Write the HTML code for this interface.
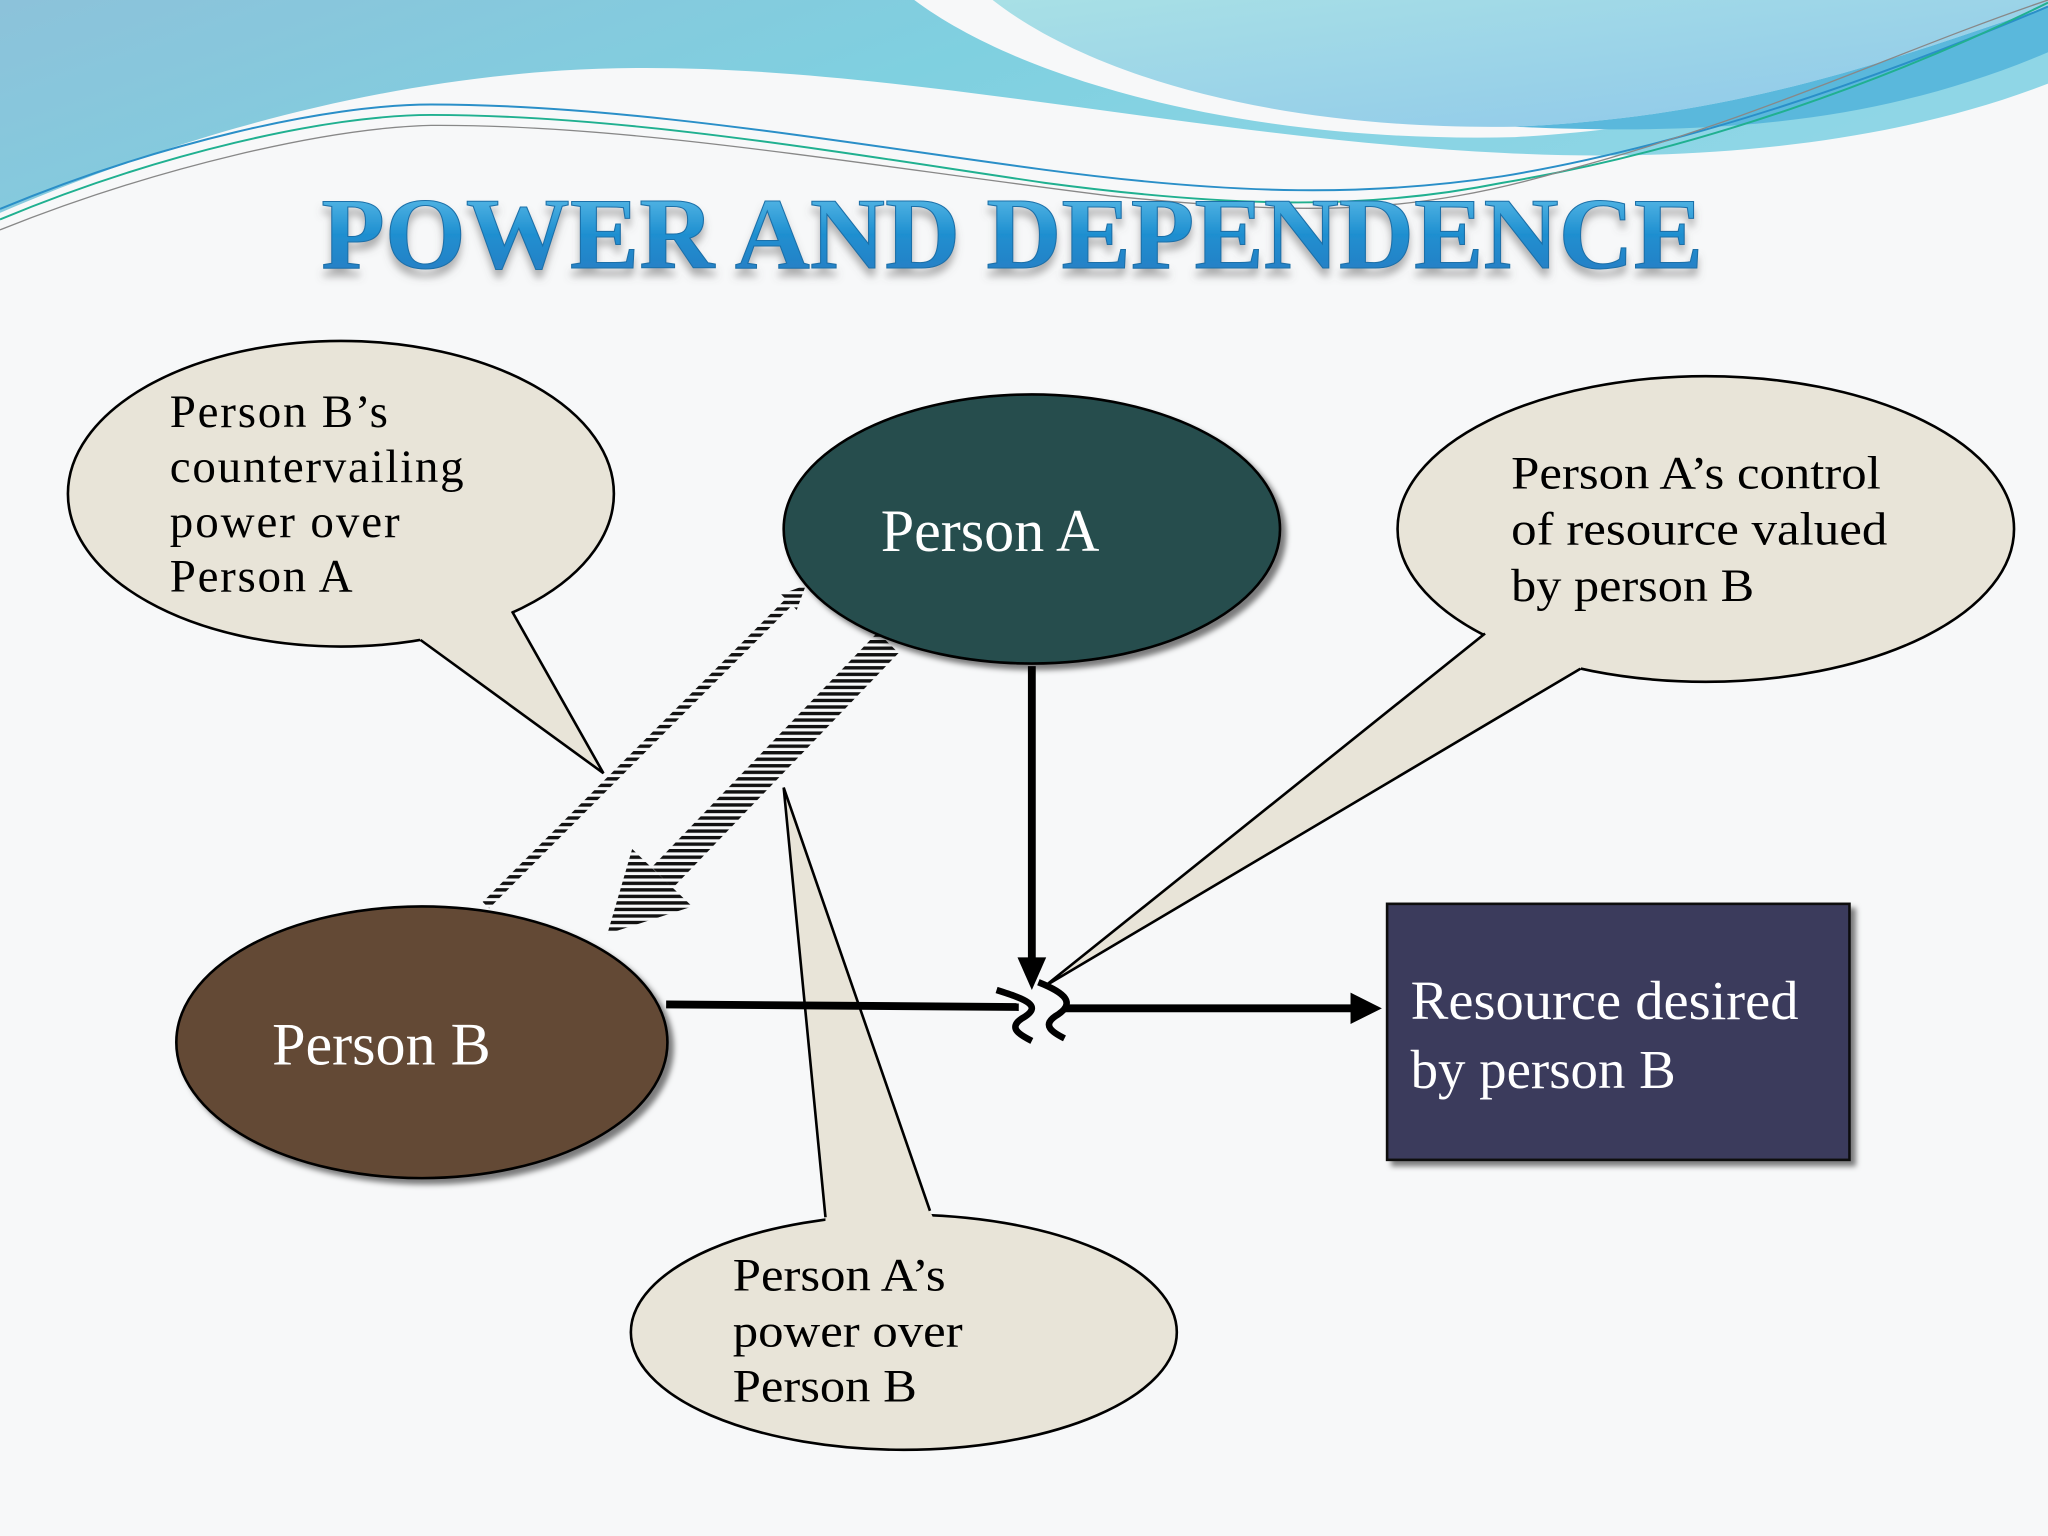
<!DOCTYPE html>
<html><head><meta charset="utf-8"><style>html,body{margin:0;padding:0;background:#f7f8f9}svg{display:block}</style></head>
<body>
<svg width="2048" height="1536" viewBox="0 0 1568 1176" xmlns="http://www.w3.org/2000/svg">
<defs>
<linearGradient id="sky" x1="0" y1="0" x2="1" y2="0.3">
<stop offset="0" stop-color="#8cc2da"/><stop offset="0.5" stop-color="#7fd0e0"/><stop offset="1" stop-color="#8fd6e6"/></linearGradient>
<linearGradient id="sky2" x1="0" y1="0" x2="1" y2="1">
<stop offset="0" stop-color="#a8e0e6"/><stop offset="1" stop-color="#8ec7ea"/></linearGradient>
<linearGradient id="tg" x1="0" y1="0" x2="0" y2="1">
<stop offset="0" stop-color="#6cc8ee"/><stop offset="0.5" stop-color="#1f8fd0"/><stop offset="1" stop-color="#2a78c0"/></linearGradient>
<pattern id="st" width="6" height="5" patternUnits="userSpaceOnUse"><rect width="6" height="2.6" fill="#111"/></pattern>
<filter id="sh" x="-10%" y="-10%" width="130%" height="130%"><feDropShadow dx="4" dy="4" stdDeviation="2" flood-color="#000" flood-opacity="0.5"/></filter>
<filter id="ts" x="-5%" y="-20%" width="110%" height="160%"><feDropShadow dx="0" dy="6" stdDeviation="3" flood-color="#666" flood-opacity="0.5"/></filter>
</defs>
<rect width="1568" height="1176" fill="#f7f8f9"/>
<!-- top waves -->
<path d="M0,0 H1568 V64 C1450,110 1300,125 1150,117 C900,105 650,40 430,54 C250,66 100,120 0,163 Z" fill="url(#sky)"/>
<path d="M700,0 C780,60 950,110 1160,105 C1330,95 1450,55 1568,15 V0 Z" fill="#f7f8f9"/>
<path d="M760,0 C830,55 970,100 1160,97 C1330,90 1450,45 1568,5 V0 Z" fill="url(#sky2)"/>
<path d="M1160,97 C1330,90 1450,45 1568,5 V40 C1450,90 1330,105 1160,97Z" fill="#5ab8dc"/>
<path d="M0,160 C120,110 250,80 330,80 C480,80 650,110 800,130 C950,150 1050,150 1150,135 C1300,110 1450,55 1568,5" fill="none" stroke="#2a8fc8" stroke-width="1.5"/>
<path d="M0,168 C120,118 250,88 330,88 C480,88 650,118 800,140 C950,160 1050,160 1150,140 C1300,115 1450,60 1568,2" fill="none" stroke="#20b090" stroke-width="1.5"/>
<path d="M0,176 C120,128 250,98 330,96 C480,95 650,125 850,150 C1000,165 1080,165 1200,130 C1350,90 1450,40 1568,0" fill="none" stroke="#888" stroke-width="1"/>
<!-- title -->
<text x="775" y="205" text-anchor="middle" font-family="Liberation Serif, serif" font-weight="bold" font-size="78" textLength="1058" lengthAdjust="spacingAndGlyphs" fill="url(#tg)" stroke="#1a6fa8" stroke-width="0.8" filter="url(#ts)">POWER AND DEPENDENCE</text>
<!-- callout 1 -->
<ellipse cx="261" cy="378" rx="209" ry="117" fill="#e8e4d8" stroke="#000" stroke-width="2"/>
<polygon points="310,470 322,490 462,592 392,468 380,440" fill="#e8e4d8"/>
<polyline points="322,490 462,592 392,468" fill="none" stroke="#000" stroke-width="2"/>
<g font-family="Liberation Serif, serif" font-size="36" fill="#000" lengthAdjust="spacingAndGlyphs">
<text x="130" y="327" textLength="167">Person B’s</text><text x="130" y="369" textLength="225">countervailing</text><text x="130" y="411" textLength="176">power over</text><text x="130" y="453" textLength="140">Person A</text>
</g>
<!-- callout 2 -->
<ellipse cx="1306" cy="405" rx="236" ry="117" fill="#e8e4d8" stroke="#000" stroke-width="2"/>
<polygon points="1137,470 1137,485 800,755 1210,512 1220,495" fill="#e8e4d8"/>
<polyline points="1137,485 800,755 1210,512" fill="none" stroke="#000" stroke-width="2"/>
<g font-family="Liberation Serif, serif" font-size="36" fill="#000">
<text x="1157" y="374" textLength="283" lengthAdjust="spacingAndGlyphs">Person A’s control</text><text x="1157" y="417" textLength="288" lengthAdjust="spacingAndGlyphs">of resource valued</text><text x="1157" y="460" textLength="186" lengthAdjust="spacingAndGlyphs">by person B</text>
</g>
<!-- callout 3 -->
<ellipse cx="692" cy="1020" rx="209" ry="90" fill="#e8e4d8" stroke="#000" stroke-width="2"/>
<polygon points="632,945 632,932 600,603 712,927 720,945" fill="#e8e4d8"/>
<polyline points="632,932 600,603 712,927" fill="none" stroke="#000" stroke-width="2"/>
<g font-family="Liberation Serif, serif" font-size="36" fill="#000">
<text x="561" y="988" textLength="163" lengthAdjust="spacingAndGlyphs">Person A’s</text><text x="561" y="1031" textLength="176" lengthAdjust="spacingAndGlyphs">power over</text><text x="561" y="1073" textLength="141" lengthAdjust="spacingAndGlyphs">Person B</text>
</g>
<!-- lines -->
<line x1="510" y1="769" x2="780" y2="771" stroke="#000" stroke-width="6"/>
<line x1="815" y1="772" x2="1040" y2="772" stroke="#000" stroke-width="6"/>
<polygon points="1058,772 1034,760 1034,784" fill="#000"/>
<line x1="790" y1="510" x2="790" y2="735" stroke="#000" stroke-width="6"/>
<polygon points="790,758 779,733 801,733" fill="#000"/>
<path d="M763,758 C785,765 800,770 782,780 C772,787 780,792 790,797" fill="none" stroke="#000" stroke-width="5"/>
<path d="M795,752 C815,760 825,768 808,778 C798,785 805,790 815,795" fill="none" stroke="#000" stroke-width="5"/>
<!-- striped arrows -->
<line x1="372" y1="693" x2="604" y2="461" stroke="url(#st)" stroke-width="7"/>
<polygon points="617,448 610,467 598,455" fill="url(#st)"/>
<polygon points="515,680 499,664 672,484 688,500" fill="url(#st)"/>
<polygon points="465,715 530,694 484,650" fill="url(#st)"/>
<!-- Person A -->
<ellipse cx="790" cy="405" rx="190" ry="103" fill="#264d4d" stroke="#000" stroke-width="2" filter="url(#sh)"/>
<text x="758" y="422" text-anchor="middle" font-family="Liberation Serif, serif" font-size="46" fill="#fff">Person A</text>
<!-- Person B -->
<ellipse cx="323" cy="798" rx="188" ry="104" fill="#644a36" stroke="#000" stroke-width="2" filter="url(#sh)"/>
<text x="292" y="815" text-anchor="middle" font-family="Liberation Serif, serif" font-size="46" fill="#fff">Person B</text>
<!-- resource -->
<rect x="1062" y="692" width="354" height="196" fill="#3b3a5c" stroke="#111" stroke-width="2" filter="url(#sh)"/>
<g font-family="Liberation Serif, serif" font-size="42" fill="#fff">
<text x="1080" y="780" textLength="297" lengthAdjust="spacingAndGlyphs">Resource desired</text><text x="1080" y="833">by person B</text>
</g>
</svg>
</body></html>
